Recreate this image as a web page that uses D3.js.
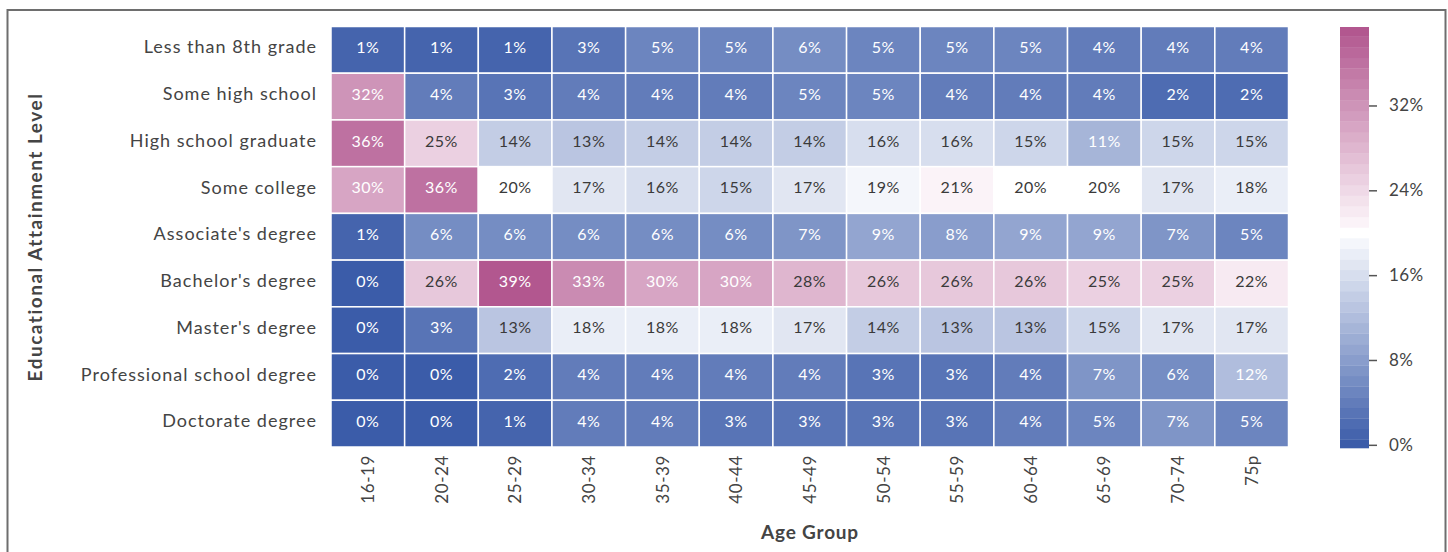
<!DOCTYPE html>
<html><head><meta charset="utf-8">
<script src="https://cdn.jsdelivr.net/npm/d3@7"></script>
<style>
body{margin:0;background:#fff}
text{font-family:Lato,"Open Sans",sans-serif}
</style>
</head><body>
<svg id="chart" width="1448" height="552"></svg>
<script>
const ageGroups = ["16-19","20-24","25-29","30-34","35-39","40-44","45-49","50-54","55-59","60-64","65-69","70-74","75p"];
const levels = ["Less than 8th grade","Some high school","High school graduate","Some college","Associate's degree","Bachelor's degree","Master's degree","Professional school degree","Doctorate degree"];
const lessThan8th   = [1,1,1,3,5,5,6,5,5,5,4,4,4];
const someHigh      = [32,4,3,4,4,4,5,5,4,4,4,2,2];
const highGrad      = [36,25,14,13,14,14,14,16,16,15,11,15,15];
const someCollege   = [30,36,20,17,16,15,17,19,21,20,20,17,18];
const associate     = [1,6,6,6,6,6,7,9,8,9,9,7,5];
const bachelor      = [0,26,39,33,30,30,28,26,26,26,25,25,22];
const master        = [0,3,13,18,18,18,17,14,13,13,15,17,17];
const professional  = [0,0,2,4,4,4,4,3,3,4,7,6,12];
const doctorate     = [0,0,1,4,4,3,3,3,3,4,5,7,5];
const seriesRows = [lessThan8th, someHigh, highGrad, someCollege, associate, bachelor, master, professional, doctorate];
const cbarTicks = [0, 8, 16, 24, 32];

const svg = d3.select("#chart");

// frame
svg.append("rect").attr("x",7.5).attr("y",10).attr("width",1438).attr("height",600)
  .attr("fill","none").attr("stroke","#6e6e6e").attr("stroke-width",2);

const x = d3.scaleBand().domain(ageGroups).range([331, 1288.5]);
const y = d3.scaleBand().domain(levels).range([26.5, 447]);

const blueDark = "rgb(59,92,169)", blueLight = "rgb(244,246,251)";
const pinkLight = "rgb(251,243,248)", pinkDark = "rgb(178,87,143)";
function bandColor(i){
  if (i < 20) return d3.interpolateRgb(blueDark, blueLight)(i/19);
  if (i === 20) return "#ffffff";
  return d3.interpolateRgb(pinkLight, pinkDark)((i-21)/18);
}
function colorFor(v){ return bandColor(Math.max(0, Math.min(39, Math.round(v)))); }

const cells = [];
levels.forEach((lv, r) => ageGroups.forEach((ag, c) => cells.push({lv, ag, v: seriesRows[r][c]})));

const g = svg.append("g");
g.selectAll("rect.cell").data(cells).join("rect").attr("class","cell")
  .attr("x", d => x(d.ag)).attr("y", d => y(d.lv))
  .attr("width", x.bandwidth()).attr("height", y.bandwidth())
  .attr("fill", d => colorFor(d.v)).attr("stroke","#fff").attr("stroke-width",1.5);

g.selectAll("text.ann").data(cells).join("text").attr("class","ann")
  .attr("x", d => x(d.ag) + x.bandwidth()/2).attr("y", d => y(d.lv) + y.bandwidth()/2)
  .attr("dy","0.2em").attr("text-anchor","middle")
  .style("font-size","16px").style("letter-spacing","0.5px")
  .attr("fill", d => (d.v < 12.5 || d.v > 29) ? "#ffffff" : "#3a3a3a")
  .text(d => d.v + "%");

// y axis
const ya = svg.append("g").attr("transform","translate(331,0)")
  .call(d3.axisLeft(y).tickSize(0).tickPadding(14));
ya.select(".domain").remove();
ya.selectAll("text").style("font-size","18px").style("letter-spacing","1px").attr("fill","#444")
  .style("font-family","Lato,sans-serif").attr("dy","0.2em");

// x axis
const xa = svg.append("g").attr("transform","translate(0,447)")
  .call(d3.axisBottom(x).tickSize(0));
xa.select(".domain").remove();
xa.selectAll("text").style("font-size","17px").style("letter-spacing","0.6px").attr("fill","#444").style("font-family","Lato,sans-serif")
  .attr("transform","rotate(-90)").attr("x",-8).attr("y",0).attr("dy","0.36em").attr("text-anchor","end");

// axis titles
svg.append("text").attr("transform","translate(35,237) rotate(-90)").attr("dy","0.36em")
  .attr("text-anchor","middle").style("font-size","19px").style("letter-spacing","1.5px").style("font-weight","bold").attr("fill","#444")
  .text("Educational Attainment Level");
svg.append("text").attr("x",810).attr("y",539).attr("text-anchor","middle")
  .style("font-size","19px").style("letter-spacing","0.8px").style("font-weight","bold").attr("fill","#444").text("Age Group");

// colorbar
const cbMin = -0.3, cbMax = 39.4;
const cb = d3.scaleLinear().domain([cbMin, cbMax]).range([448, 27]);
const bands = d3.range(0, 40);
svg.append("g").selectAll("rect").data(bands).join("rect")
  .attr("x",1340).attr("width",29)
  .attr("y", i => cb(Math.min(i+0.5, cbMax)))
  .attr("height", i => cb(Math.max(i-0.5, cbMin)) - cb(Math.min(i+0.5, cbMax)) + 0.3)
  .attr("fill", i => bandColor(i));
const ca = svg.append("g").attr("transform","translate(1369,0)")
  .call(d3.axisRight(cb).tickValues(cbarTicks).tickFormat(d => d + "%").tickSize(8).tickPadding(12));
ca.select(".domain").remove();
ca.selectAll("line").attr("stroke","#555").attr("stroke-width",1.5);
ca.selectAll("text").style("font-size","17px").style("letter-spacing","0.4px").attr("fill","#444").style("font-family","Lato,sans-serif");
</script>
</body></html>
